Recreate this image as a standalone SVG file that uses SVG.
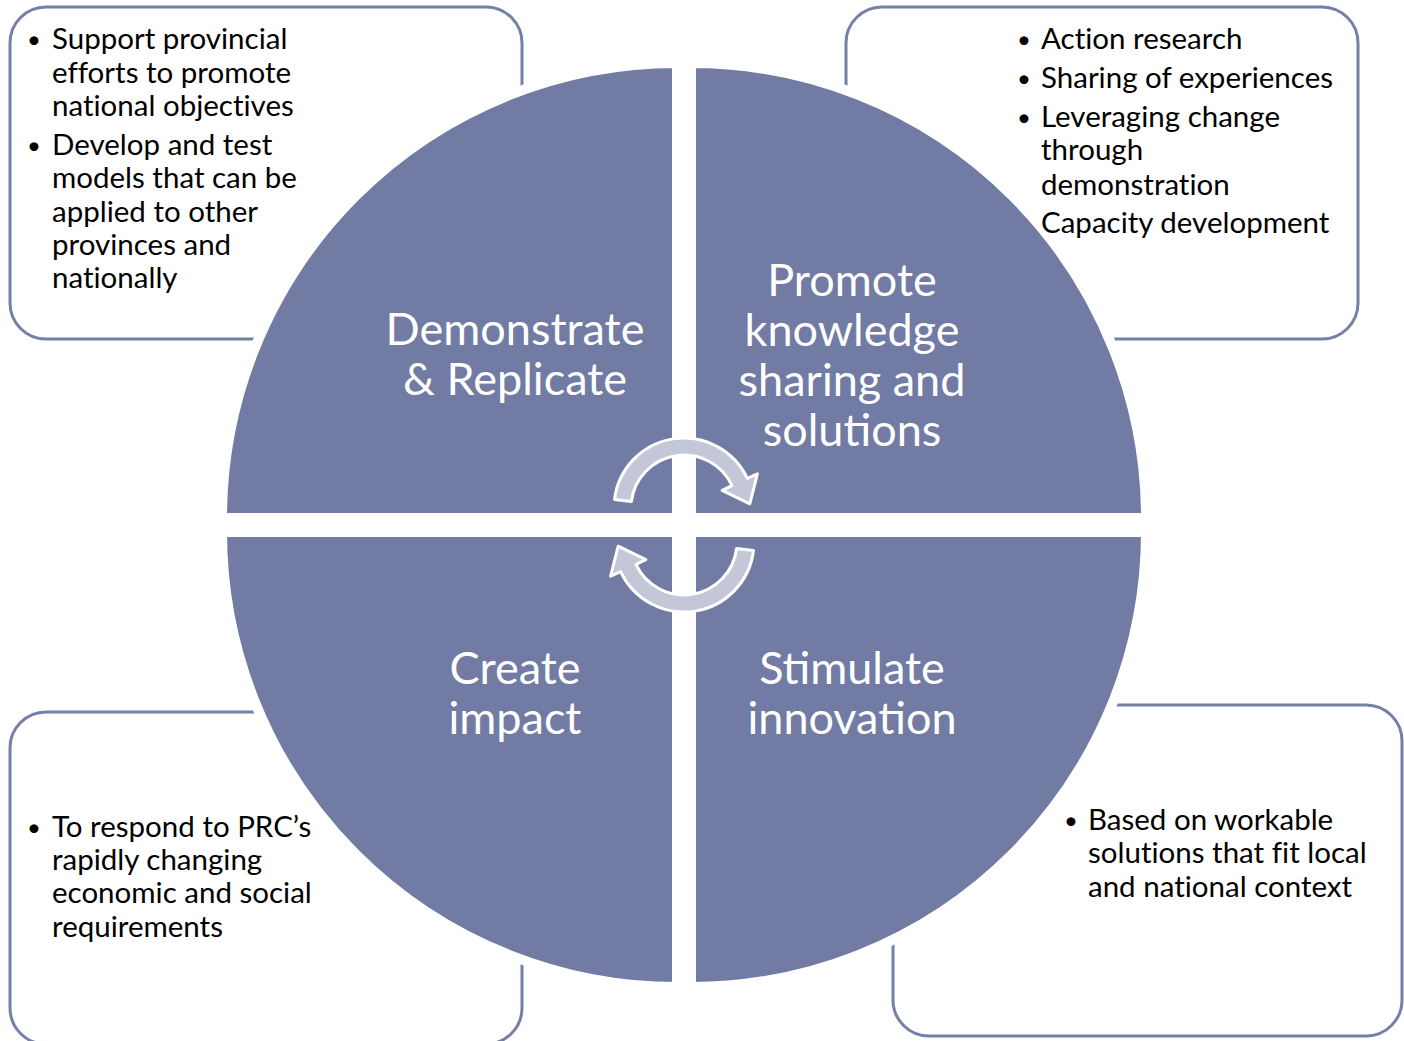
<svg xmlns="http://www.w3.org/2000/svg" width="1404" height="1041" viewBox="0 0 1404 1041">
<style>
.box{fill:#fff;stroke:#7580a8;stroke-width:3}
.q{fill:#717ba3;stroke:#fff;stroke-width:10}
.t{font-family:Lato,"Open Sans",sans-serif;font-size:29.5px;fill:#000;font-variant-ligatures:none}
.b{font-size:24px}
.lbl{font-family:Lato,"Open Sans",sans-serif;font-size:45px;fill:#fff;text-anchor:middle}
.arr{fill:#c3c7d7;stroke:#fff;stroke-width:3;stroke-linejoin:round}
</style>
<rect width="1404" height="1041" fill="#fff"/>
<g id="box-tl"><rect class="box" x="10" y="7" width="512" height="332" rx="36"/></g>
<g id="box-tr"><rect class="box" x="846" y="7" width="512" height="332" rx="36"/></g>
<g id="box-bl"><rect class="box" x="10" y="712" width="512" height="332" rx="36"/></g>
<g id="box-br"><rect class="box" x="893" y="705" width="509" height="331" rx="36"/></g>
<g id="quad-tl"><path class="q" d="M677 518 L222 518 A455 455 0 0 1 677 63 Z"/></g>
<g id="quad-tr"><path class="q" d="M691 518 L691 63 A455 455 0 0 1 1146 518 Z"/></g>
<g id="quad-bl"><path class="q" d="M677 532 L677 987 A455 455 0 0 1 222 532 Z"/></g>
<g id="quad-br"><path class="q" d="M691 532 L1146 532 A455 455 0 0 1 691 987 Z"/></g>
<g id="text-tl" class="t">
<text class="b" x="27" y="48">•</text>
<text x="52" y="49">Support provincial</text>
<text x="52" y="83">efforts to promote</text>
<text x="52" y="116">national objectives</text>
<text class="b" x="27" y="154">•</text>
<text x="52" y="155">Develop and test</text>
<text x="52" y="188">models that can be</text>
<text x="52" y="222">applied to other</text>
<text x="52" y="255">provinces and</text>
<text x="52" y="288">nationally</text>
</g>
<g id="text-tr" class="t">
<text class="b" x="1017" y="48">•</text>
<text x="1041" y="49">Action research</text>
<text class="b" x="1017" y="87">•</text>
<text x="1041" y="88">Sharing of experiences</text>
<text class="b" x="1017" y="126">•</text>
<text x="1041" y="127">Leveraging change</text>
<text x="1041" y="160">through</text>
<text x="1041" y="195">demonstration</text>
<text x="1041" y="233">Capacity development</text>
</g>
<g id="text-bl" class="t">
<text class="b" x="27" y="836">•</text>
<text x="52" y="837">To respond to PRC’s</text>
<text x="52" y="870">rapidly changing</text>
<text x="52" y="903">economic and social</text>
<text x="52" y="937">requirements</text>
</g>
<g id="text-br" class="t">
<text class="b" x="1064" y="829">•</text>
<text x="1088" y="830">Based on workable</text>
<text x="1088" y="863">solutions that fit local</text>
<text x="1088" y="897">and national context</text>
</g>
<g id="label-tl" class="lbl"><text x="515" y="345">Demonstrate</text><text x="515" y="395">&amp; Replicate</text></g>
<g id="label-tr" class="lbl"><text x="852" y="296">Promote</text><text x="852" y="346">knowledge</text><text x="852" y="396">sharing and</text><text x="852" y="446">solutions</text></g>
<g id="label-bl" class="lbl"><text x="515" y="684">Create</text><text x="515" y="734">impact</text></g>
<g id="label-br" class="lbl"><text x="852" y="684">Stimulate</text><text x="852" y="734">innovation</text></g>
<g id="connectors">
<path id="arrow-top" class="arr" d="M614.5 499.5 A70 70 0 0 1 747.4 478.4 L757.4 473.8 L749.8 503.8 L722.1 490.3 L732 485.6 A53 53 0 0 0 631.4 501.5 Z"/>
<path id="arrow-bottom" class="arr" transform="rotate(180 684 525)" d="M614.5 499.5 A70 70 0 0 1 747.4 478.4 L757.4 473.8 L749.8 503.8 L722.1 490.3 L732 485.6 A53 53 0 0 0 631.4 501.5 Z"/>
</g>
</svg>
